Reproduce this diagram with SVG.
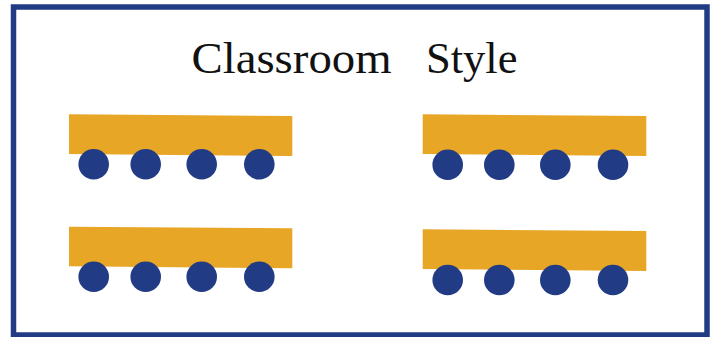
<svg xmlns="http://www.w3.org/2000/svg" width="717" height="337" viewBox="0 0 717 337">
<style>
.frame{fill:#fff;stroke:#223B85;stroke-width:5.5}
.table{fill:#E7A626}
.chair{fill:#223B85}
.title{font-family:"Liberation Serif","DejaVu Serif",serif;font-size:44px;fill:#111}
</style>
<rect width="717" height="337" fill="#fff"/>
<rect class="frame" x="13.5" y="7" width="693.5" height="328"/>
<g id="title">
<text class="title" x="191.5" y="72.5" textLength="200" lengthAdjust="spacingAndGlyphs">Classroom</text>
<text class="title" x="426" y="72.5" textLength="91.5" lengthAdjust="spacingAndGlyphs">Style</text>
</g>
<g id="group-top-left">
<polygon class="table" points="69,114.3 292.3,116 292.3,156 69,154"/>
<circle class="chair" cx="93.7" cy="164.3" r="15.3"/>
<circle class="chair" cx="145.7" cy="164.3" r="15.3"/>
<circle class="chair" cx="201.7" cy="164.3" r="15.3"/>
<circle class="chair" cx="259.3" cy="164.3" r="15.3"/>
</g>
<g id="group-top-right">
<polygon class="table" points="422.7,114.3 646.3,116 646.3,156 422.7,154"/>
<circle class="chair" cx="447.7" cy="164.7" r="15.3"/>
<circle class="chair" cx="499.3" cy="164.7" r="15.3"/>
<circle class="chair" cx="555.3" cy="164.7" r="15.3"/>
<circle class="chair" cx="613" cy="164.7" r="15.3"/>
</g>
<g id="group-bottom-left">
<polygon class="table" points="69,226.7 292.3,228.3 292.3,268.3 69,266.3"/>
<circle class="chair" cx="93.7" cy="276.7" r="15.3"/>
<circle class="chair" cx="145.7" cy="276.7" r="15.3"/>
<circle class="chair" cx="201.7" cy="276.7" r="15.3"/>
<circle class="chair" cx="259.3" cy="276.7" r="15.3"/>
</g>
<g id="group-bottom-right">
<polygon class="table" points="422.7,229.3 646.3,231 646.3,271 422.7,269"/>
<circle class="chair" cx="447.7" cy="280" r="15.3"/>
<circle class="chair" cx="499.3" cy="280" r="15.3"/>
<circle class="chair" cx="555.3" cy="280" r="15.3"/>
<circle class="chair" cx="613" cy="280" r="15.3"/>
</g>
<g id="connectors"/>
</svg>
